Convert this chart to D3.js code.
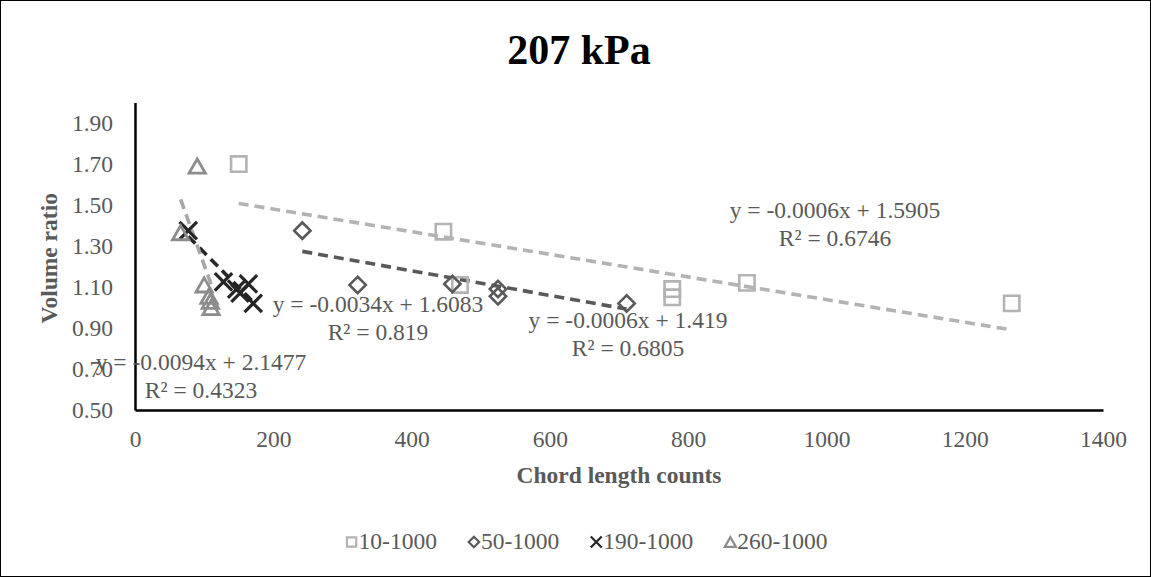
<!DOCTYPE html>
<html>
<head>
<meta charset="utf-8">
<script src="https://cdn.jsdelivr.net/npm/d3@7"></script>
<style>
  html, body { margin: 0; padding: 0; background: #fff; }
  svg { display: block; }
  text { font-family: "Liberation Serif", "Times New Roman", serif; }
</style>
</head>
<body>
<svg id="chart" width="1151" height="577"></svg>
<script>
// Chord length counts vs. volume ratio at 207 kPa, four size classes
const seriesNames = ["10-1000", "50-1000", "190-1000", "260-1000"];

const countsA = [150, 446, 470, 777, 777, 885, 1268];
const ratioA  = [1.70, 1.37, 1.11, 1.09, 1.05, 1.12, 1.02];

const countsB = [242, 322, 459, 525, 525, 711];
const ratioB  = [1.375, 1.11, 1.115, 1.09, 1.055, 1.02];

const countsC = [77, 128, 147, 152, 164, 171];
const ratioC  = [1.375, 1.125, 1.09, 1.07, 1.115, 1.02];

const countsD = [90, 66, 100, 107, 109, 110];
const ratioD  = [1.69, 1.365, 1.11, 1.055, 1.03, 1.0];

// Linear trendline coefficients and goodness of fit
const trendSlopes     = [-0.000552, -0.0006, -0.0034, -0.0094];
const trendIntercepts = [1.5905, 1.419, 1.6083, 2.1477];
const trendR2         = ["0.6746", "0.6805", "0.819", "0.4323"];

const xTicks = [0, 200, 400, 600, 800, 1000, 1200, 1400];
const yTicks = [0.5, 0.7, 0.9, 1.1, 1.3, 1.5, 1.7, 1.9];

const W = 1151, H = 577;
const FS = 23.5;
const svg = d3.select("#chart");

const plot = { left: 135, right: 1103, top: 102.5, bottom: 410 };
const x = d3.scaleLinear().domain([0, 1400]).range([plot.left, plot.right]);
const y = d3.scaleLinear().domain([0.5, 2.0]).range([plot.bottom, plot.top]);

const textGray = "#595959";
const colors      = ["#b3b3b3", "#595959", "#262626", "#8c8c8c"];
const trendColors = ["#b3b3b3", "#595959", "#262626", "#a6a6a6"];

// outline triangle centred on its bounding box
const boxTriangle = {
  draw(context, size) {
    const s = Math.sqrt(size) * 0.6824, t = s * 0.5, u = s * Math.sqrt(3) / 2;
    const dy = s / 4;
    context.moveTo(0, -s + dy);
    context.lineTo(u, t + dy);
    context.lineTo(-u, t + dy);
    context.closePath();
  }
};
const shapes = [d3.symbolSquare2, d3.symbolDiamond2, d3.symbolTimes, boxTriangle];
const sizes  = [300, 170, 200, 190];
const strokeW = [2.6, 2.6, 3.2, 2.8];

const series = [
  { xs: countsA, ys: ratioA },
  { xs: countsB, ys: ratioB },
  { xs: countsC, ys: ratioC },
  { xs: countsD, ys: ratioD }
];

// chart frame
svg.append("rect")
  .attr("x", 0.5).attr("y", 0.5)
  .attr("width", W - 1).attr("height", H - 1)
  .attr("fill", "#fff").attr("stroke", "#000").attr("stroke-width", 1);

// title
svg.append("text")
  .attr("x", 579).attr("y", 64)
  .attr("text-anchor", "middle")
  .attr("font-size", 42).attr("font-weight", "bold")
  .attr("fill", "#000")
  .text("207 kPa");

// axes (lines and labels only)
const xAxis = d3.axisBottom(x).tickValues(xTicks).tickSize(0).tickPadding(20)
  .tickFormat(d3.format("d"));
const yAxis = d3.axisLeft(y).tickValues(yTicks).tickSize(0).tickPadding(22)
  .tickFormat(d3.format(".2f"));

const gx = svg.append("g").attr("transform", `translate(0,${plot.bottom})`).call(xAxis);
const gy = svg.append("g").attr("transform", `translate(${plot.left},0)`).call(yAxis);
[gx, gy].forEach(g => {
  g.select(".domain").attr("stroke", "#000").attr("stroke-width", 2.5);
  g.selectAll("text")
    .attr("font-family", "Liberation Serif, Times New Roman, serif")
    .attr("font-size", FS)
    .attr("fill", textGray);
});

// axis titles
svg.append("text")
  .attr("x", (plot.left + plot.right) / 2).attr("y", 483)
  .attr("text-anchor", "middle")
  .attr("font-size", FS).attr("font-weight", "bold")
  .attr("fill", textGray)
  .text("Chord length counts");

svg.append("text")
  .attr("transform", `translate(57,${(plot.top + plot.bottom) / 2 + 2}) rotate(-90)`)
  .attr("text-anchor", "middle")
  .attr("font-size", FS).attr("font-weight", "bold")
  .attr("fill", textGray)
  .text("Volume ratio");

// trendlines over each series' count range
const line = d3.line().x(d => x(d[0])).y(d => y(d[1]));
series.forEach((s, i) => {
  const [x0, x1] = d3.extent(s.xs);
  const pts = [x0, x1].map(v => [v, trendIntercepts[i] + trendSlopes[i] * v]);
  svg.append("path")
    .attr("d", line(pts))
    .attr("fill", "none")
    .attr("stroke", trendColors[i])
    .attr("stroke-width", 3.6)
    .attr("stroke-dasharray", "10,6");
});

// markers
series.forEach((s, i) => {
  const sym = d3.symbol().type(shapes[i]).size(sizes[i]);
  svg.append("g").selectAll("path")
    .data(s.xs.map((v, k) => [v, s.ys[k]]))
    .join("path")
    .attr("transform", d => `translate(${x(d[0])},${y(d[1])})`)
    .attr("d", sym)
    .attr("fill", "none")
    .attr("stroke", colors[i])
    .attr("stroke-width", strokeW[i])
    .attr("stroke-linejoin", "miter");
});

// trendline equation labels (two centred lines each)
const fmtSlope = v => (v < 0 ? "-" : "") + Math.abs(v).toFixed(4);
const labelPos = [
  { cx: 835, y1: 218 },
  { cx: 628, y1: 328 },
  { cx: 378, y1: 312 },
  { cx: 201, y1: 370 }
];
series.forEach((s, i) => {
  const p = labelPos[i];
  const t = svg.append("text")
    .attr("text-anchor", "middle")
    .attr("font-size", FS).attr("fill", textGray);
  t.append("tspan").attr("x", p.cx).attr("y", p.y1)
    .text(`y = ${fmtSlope(trendSlopes[i])}x + ${trendIntercepts[i]}`);
  t.append("tspan").attr("x", p.cx).attr("y", p.y1 + 28)
    .text(`R² = ${trendR2[i]}`);
});

// legend
const legend = svg.append("g");
let lx = 0;
const legendGap = 31;
const legendSizes = [110, 70, 80, 90];
seriesNames.forEach((name, i) => {
  const g = legend.append("g").attr("transform", `translate(${lx},0)`);
  g.append("path")
    .attr("d", d3.symbol().type(shapes[i]).size(legendSizes[i]))
    .attr("transform", "translate(6,-7)")
    .attr("fill", "none")
    .attr("stroke", colors[i])
    .attr("stroke-width", 2.2);
  const t = g.append("text")
    .attr("x", 13).attr("y", 0)
    .attr("font-size", FS).attr("fill", textGray)
    .text(name);
  lx += 13 + t.node().getComputedTextLength() + legendGap;
});
const legendW = lx - legendGap;
legend.attr("transform", `translate(${(W - legendW) / 2 + 11},549)`);
</script>
</body>
</html>
